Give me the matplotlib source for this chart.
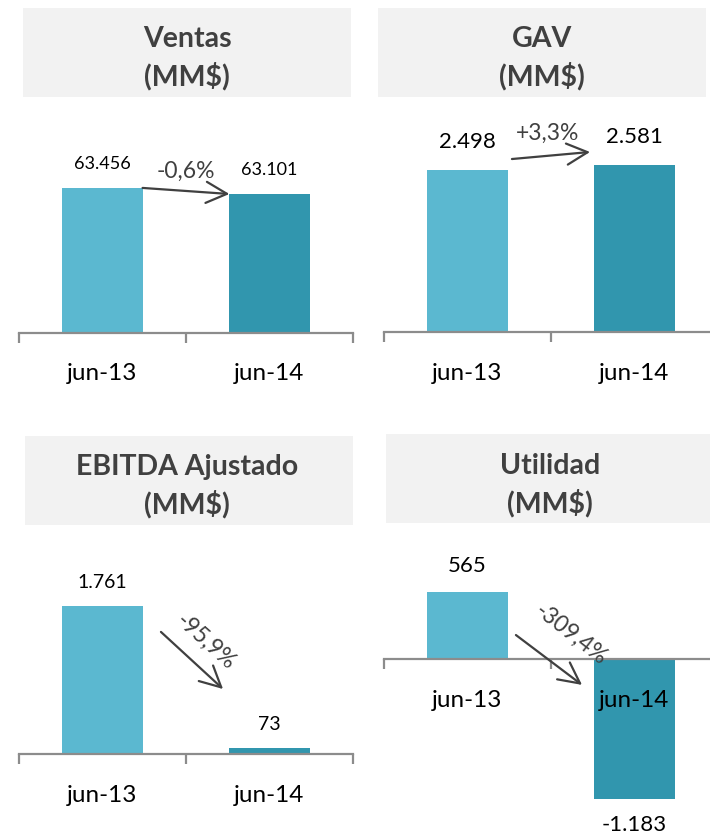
import matplotlib
matplotlib.use("Agg")
import matplotlib.pyplot as plt
from matplotlib.patches import Rectangle
from matplotlib.ticker import FixedLocator, NullFormatter, FixedFormatter

plt.rcParams['font.family'] = ['Lato', 'DejaVu Sans']

# ---------------- data ----------------
categories = ["jun-13", "jun-14"]
titles = ["Ventas\n(MM$)", "GAV\n(MM$)", "EBITDA Ajustado\n(MM$)", "Utilidad\n(MM$)"]
ventas = [63456, 63101]
gav = [2498, 2581]
ebitda = [1761, 73]
utilidad = [565, -1183]
ventas_labels = ["63.456", "63.101"]
gav_labels = ["2.498", "2.581"]
ebitda_labels = ["1.761", "73"]
utilidad_labels = ["565", "-1.183"]
changes = ["-0,6%", "+3,3%", "-95,9%", "-309,4%"]

# ---------------- style ----------------
W, H = 710, 838
C1, C2 = "#5BB8D0", "#3196AE"
TITLE_BG = "#F2F2F2"
DARK = "#404040"
AXIS_C = "#8C8C8C"
PCT_FS = 16.5

fig = plt.figure(figsize=(W / 100, H / 100), dpi=100)


def frect(x0, y0, x1, y1):
    """pixel box (top-left origin) -> figure fraction [l, b, w, h]"""
    return [x0 / W, 1 - y1 / H, (x1 - x0) / W, (y1 - y0) / H]


def title_box(x0, y0, x1, y1, text, cx, cy):
    l, b, w, h = frect(x0, y0, x1, y1)
    fig.patches.append(Rectangle((l, b), w, h, transform=fig.transFigure,
                                 facecolor=TITLE_BG, edgecolor="none", zorder=0))
    fig.text(cx / W, 1 - cy / H, text, ha="center", va="center",
             fontsize=20.5, fontweight="bold", color=DARK, linespacing=1.4)


def make_axes(rect, vals, ylim, labels, lab_fs, lab_off):
    ax = fig.add_axes(frect(*rect))
    ax.set_facecolor("none")
    x = [0, 1]
    ax.bar(x, vals, width=0.48, color=[C1, C2], zorder=1)
    ax.set_xlim(-0.5, 1.5)
    ax.set_ylim(*ylim)
    for s in ["top", "right", "left"]:
        ax.spines[s].set_visible(False)
    ax.spines["bottom"].set_position(("data", max(ylim[0], 0)))
    ax.spines["bottom"].set_color(AXIS_C)
    ax.spines["bottom"].set_linewidth(1.6)
    ax.yaxis.set_visible(False)
    ax.xaxis.set_major_locator(FixedLocator([-0.5, 0.5, 1.5]))
    ax.xaxis.set_major_formatter(NullFormatter())
    ax.xaxis.set_minor_locator(FixedLocator(x))
    ax.xaxis.set_minor_formatter(FixedFormatter(categories))
    ax.tick_params(axis="x", which="major", direction="out", length=7,
                   width=1.6, color=AXIS_C)
    ax.tick_params(axis="x", which="minor", length=0, pad=22,
                   labelsize=17.5, labelcolor="black")
    for xi, v, lab in zip(x, vals, labels):
        off = lab_off if v >= 0 else -lab_off
        ax.annotate(lab, (xi, v), xytext=(0, off), textcoords="offset points",
                    ha="center", va="center", fontsize=lab_fs, color="black",
                    annotation_clip=False)
    return ax


ARROW = dict(arrowstyle="->,head_length=0.75,head_width=0.38",
             color=DARK, lw=1.6, mutation_scale=20, shrinkA=0, shrinkB=0)

# ---------- Panel 1: Ventas ----------
title_box(23, 8, 351, 97, titles[0], 187, 58)
ax1 = make_axes((19, 105, 353, 332.7), ventas, (55000, 68300),
                ventas_labels, 13, 17)
ax1.annotate("", xy=(1 - 0.24, ventas[1]), xytext=(0.24, ventas[0]),
             arrowprops=ARROW, annotation_clip=False)
ax1.text(0.5, 0.71, changes[0], transform=ax1.transAxes, ha="center",
         va="center", fontsize=PCT_FS, color=DARK)

# ---------- Panel 2: GAV ----------
title_box(378, 8, 706, 97, titles[1], 542, 58)
ax2 = make_axes((384, 105, 718, 332), gav, (0, 3503),
                gav_labels, 16, 20)
ax2.annotate("", xy=(0.617, 0.793), xytext=(0.383, 0.762),
             xycoords="axes fraction", textcoords="axes fraction",
             arrowprops=ARROW, annotation_clip=False)
ax2.text(0.491, 0.877, changes[1], transform=ax2.transAxes, ha="center",
         va="center", fontsize=PCT_FS, color=DARK)

# ---------- Panel 3: EBITDA ----------
title_box(25, 436, 353, 525, titles[2], 187, 486)
ax3 = make_axes((19, 530, 353, 754), ebitda, (0, 2667),
                ebitda_labels, 14, 17)
ax3.annotate("", xy=(0.611, 0.290), xytext=(0.425, 0.545),
             xycoords="axes fraction", textcoords="axes fraction",
             arrowprops=ARROW, annotation_clip=False)
ax3.text(0.56, 0.50, changes[2], transform=ax3.transAxes, ha="center",
         va="center", fontsize=PCT_FS, color=DARK, rotation=-42)

# ---------- Panel 4: Utilidad ----------
title_box(386, 434, 712, 523, titles[3], 550, 485)
ax4 = make_axes((384, 530, 718, 838), utilidad, (-1517, 1093),
                utilidad_labels, 16, 19)
ax4.annotate("", xy=(0.593, 0.497), xytext=(0.395, 0.659),
             xycoords="axes fraction", textcoords="axes fraction",
             arrowprops=ARROW, annotation_clip=False)
ax4.text(0.56, 0.662, changes[3], transform=ax4.transAxes, ha="center",
         va="center", fontsize=PCT_FS, color=DARK, rotation=-38)

fig.savefig("out.png", dpi=100)
